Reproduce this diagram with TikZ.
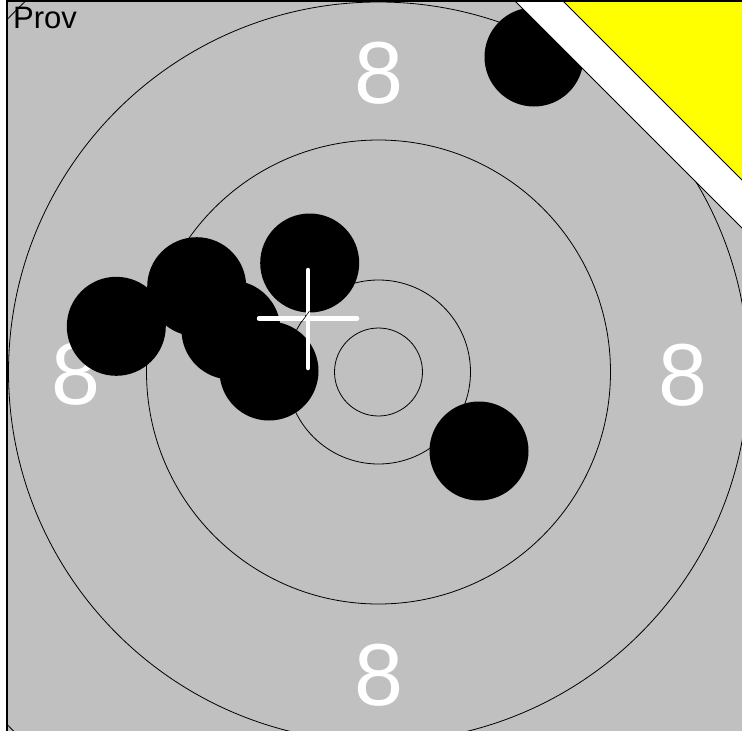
\documentclass[tikz,border=0pt]{standalone}
\usepackage{fontspec}
\setmainfont{Liberation Sans}
\definecolor{tgray}{RGB}{192,192,192}
\definecolor{tyellow}{RGB}{255,255,0}
\begin{document}
\begin{tikzpicture}[x=1pt,y=-1pt,
  ring/.style={draw=black,line width=0.8pt},
  hole/.style={fill=black},
  ringnum/.style={text=white,font=\fontsize{88}{88}\selectfont,inner sep=0pt},
  cross/.style={draw=white,line width=4.5pt,line cap=round}]
\useasboundingbox (0,0) rectangle (742,731);
\clip (0,0) rectangle (742,731);
\fill[white] (0,0) rectangle (742,731);
\fill[tgray] (6.5,1) rectangle (760,745);
\coordinate (c) at (378.5,372);
\begin{scope}
\clip (6.5,1) rectangle (760,745);
% rings
\draw[ring] (c) circle[radius=512pt];
\draw[ring] (c) circle[radius=370pt];
\draw[ring] (c) circle[radius=232pt];
\draw[ring] (c) circle[radius=92pt];
\draw[ring] (c) circle[radius=44pt];
\end{scope}
% ring numbers
\node[ringnum] (ntop) at (378.5,73) {8};
\node[ringnum] (nbot) at (378.5,675) {8};
\node[ringnum] (nleft) at (76,374) {8};
\node[ringnum] (nright) at (683,375) {8};
% shot holes
\fill[hole] (534,57) circle[radius=49.5pt];
\fill[hole] (116.3,326.3) circle[radius=49.5pt];
\fill[hole] (196.7,286.7) circle[radius=49.5pt];
\fill[hole] (231,330) circle[radius=49.5pt];
\fill[hole] (309.7,263) circle[radius=49.5pt];
\fill[hole] (269,371) circle[radius=49.5pt];
\fill[hole] (479,451) circle[radius=49.5pt];
% crosshair
\coordinate (x0) at (308,318.5);
\coordinate (xl) at (259,318.5);
\coordinate (xr) at (357,318.5);
\coordinate (xt) at (308,270);
\coordinate (xb) at (308,368);
\draw[cross] (xl) -- (xr);
\draw[cross] (xt) -- (xb);
\coordinate (m1) at (302,321.5);
\coordinate (m2) at (309.5,311);
\draw[black,line width=0.6pt] (m1) -- (m2);
% white band and yellow corner
\fill[white] (515,1) -- (760,246) -- (760,1) -- cycle;
\draw[black,line width=0.8pt] (515,1) -- (760,246);
\fill[tyellow] (563,1) -- (760,198) -- (760,1) -- cycle;
\draw[black,line width=0.8pt] (563,1) -- (760,198);
% frame
\draw[black,line width=2pt] (6.5,1) rectangle (760,745);
% label
\node[anchor=base west,inner sep=0pt,font=\fontsize{31}{31}\selectfont] (prov) at (13,28.5) {Prov};
\end{tikzpicture}
\end{document}
